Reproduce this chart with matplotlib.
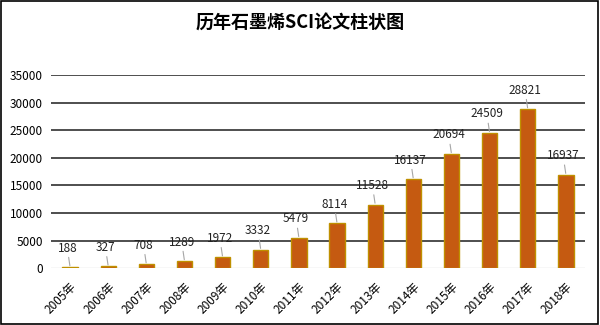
import matplotlib; matplotlib.use("Agg")
import matplotlib.pyplot as plt
from matplotlib.patches import Rectangle

plt.rcParams['font.family'] = ['Noto Sans CJK SC', 'DejaVu Sans']

years = ["2005年","2006年","2007年","2008年","2009年","2010年","2011年",
         "2012年","2013年","2014年","2015年","2016年","2017年","2018年"]
papers = [188, 327, 708, 1289, 1972, 3332, 5479, 8114, 11528, 16137, 20694, 24509, 28821, 16937]
yticks = [0, 5000, 10000, 15000, 20000, 25000, 30000, 35000]

fig = plt.figure(figsize=(6, 3.25), dpi=100)
ax = fig.add_axes([0.085, 0.175, 0.89, 0.594])
x = list(range(len(years)))
ax.bar(x, papers, width=0.4, color="#C55A11", edgecolor="#BF9000", linewidth=1, zorder=3)
for xi, v in zip(x, papers):
    ax.annotate(str(v), xy=(xi, v), xytext=(-2, 9), textcoords="offset points",
                ha="center", va="bottom", fontsize=8.5, color="#222222",
                arrowprops=dict(arrowstyle="-", color="#a6a6a6", lw=0.8, shrinkA=0, shrinkB=1))
ax.set_xlim(-0.5, 13.5); ax.set_ylim(0, 35000)
ax.set_yticks(yticks); ax.set_yticklabels([str(t) for t in yticks], fontsize=8.5)
ax.set_xticks(x); ax.set_xticklabels(years, rotation=45, ha="right", rotation_mode="anchor", fontsize=8.5)
ax.tick_params(length=0, pad=6)
ax.tick_params(axis="x", pad=9)
for t in yticks[1:]:
    ax.axhline(t, color="#303030", lw=1.2, zorder=1)
ax.axhline(0, color="#d9d9d9", lw=1, zorder=2)
for s in ax.spines.values(): s.set_visible(False)
fig.text(0.5, 0.93, "历年石墨烯SCI论文柱状图", ha="center", va="center", fontsize=13, fontweight="bold")
fig.add_artist(Rectangle((0.002, 0.003), 0.995, 0.994, transform=fig.transFigure, fill=False, ec="black", lw=1.2))
fig.savefig("out.png", dpi=100)
